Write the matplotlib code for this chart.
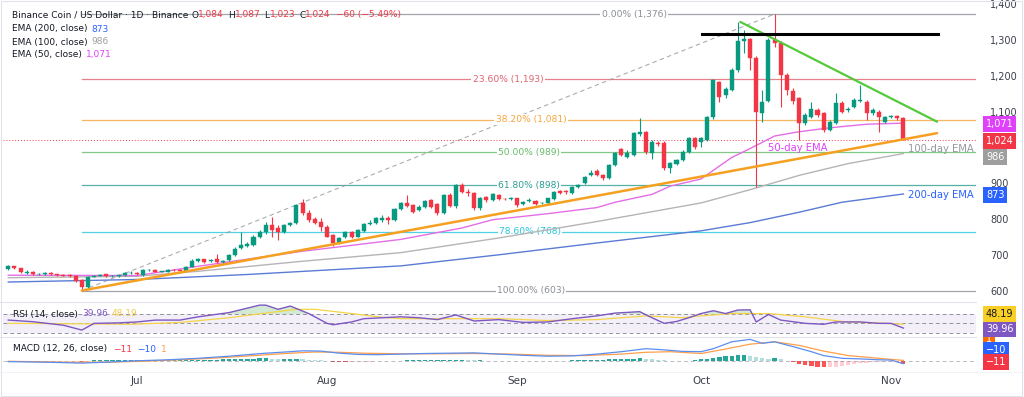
import matplotlib
matplotlib.use("Agg")
import matplotlib.pyplot as plt
import numpy as np
import pandas as pd
from matplotlib.transforms import blended_transform_factory

plt.rcParams['font.family'] = ['DejaVu Sans']

# ---------------- data ----------------
start_date = "2025-06-10"
n_days = 147

opens = [664,671,666,653,656,648,649,651,648,647,646,644,632,614,642,645,648,643,644,647,
         652,653,647,660,661,656,656,661,661,659,670,687,690,685,690,684,688,703,721,728,
         731,754,768,786,777,768,786,791,847,819,803,794,782,758,735,752,768,754,770,789,
         793,800,806,800,830,847,842,828,838,856,845,821,871,840,898,879,875,833,865,856,
         870,859,858,861,845,854,853,847,847,859,882,882,877,892,903,926,938,926,917,954,
         998,977,982,1042,1047,987,1016,1015,945,957,968,991,1029,1019,1024,1087,1187,1150,1164,1220,
         1301,1305,1252,1099,1134,1303,1294,1206,1160,1140,1071,1089,1108,1099,1052,1071,1126,1108,1117,1134,
         1131,1099,1103,1075,1089,1091,1084]
highs = [674,673,667,660,658,652,656,654,650,649,648,646,634,644,647,649,650,647,649,654,
         658,655,662,663,663,659,663,663,663,672,690,694,692,692,705,688,706,724,768,738,
         757,771,795,810,786,790,796,845,858,828,810,805,785,760,752,770,770,775,791,800,
         808,815,812,833,850,870,845,841,856,860,848,873,876,902,903,888,878,865,868,875,
         874,862,864,863,854,862,856,852,863,882,885,884,895,901,924,940,942,929,957,990,
         1001,995,1046,1085,1050,1025,1022,1020,962,972,995,1032,1033,1032,1092,1195,1190,1172,1225,1354,
         1331,1310,1260,1165,1310,1376,1300,1210,1168,1145,1100,1130,1113,1103,1080,1156,1132,1115,1140,1178,
         1136,1113,1107,1092,1094,1094,1087]
lows = [660,663,652,648,646,646,647,646,644,643,642,628,603,610,640,643,641,641,642,645,
        650,646,645,657,654,654,654,658,657,657,668,684,681,683,681,676,686,700,718,724,
        728,750,760,754,744,765,783,789,815,796,788,770,752,728,732,750,750,752,767,785,
        790,796,790,798,827,836,820,825,835,835,815,818,836,835,875,868,828,828,852,853,
        855,855,856,838,842,851,842,844,845,856,872,874,874,889,900,922,922,912,914,950,
        978,974,979,1035,985,970,1008,940,933,953,965,988,1000,1005,1020,1083,1130,1140,1160,1215,
        1266,1220,893,1075,1130,1285,1117,1150,1125,1024,1065,1085,1088,1045,1048,1068,1098,1103,1112,1130,
        1080,1095,1047,1072,1086,1080,1023]
closes = [671,666,655,655,649,650,651,648,646,645,644,630,614,642,644,646,643,645,647,652,
          653,648,660,661,656,657,661,660,659,670,687,690,684,689,683,686,703,720,730,734,
          754,768,786,772,768,786,793,842,819,800,791,782,754,735,749,768,754,772,788,791,
          805,807,800,830,847,840,824,838,853,838,821,870,840,898,879,875,833,861,856,872,
          858,858,861,842,851,856,845,849,861,879,875,878,892,898,921,932,926,917,954,987,
          982,987,1043,1045,991,1019,1014,945,959,968,991,1029,1005,1029,1089,1192,1145,1166,1220,1301,
          1305,1252,1103,1131,1303,1294,1206,1164,1132,1071,1094,1110,1094,1052,1075,1126,1103,1110,1136,1137,
          1099,1108,1089,1087,1091,1084,1024]

# EMA lines (day = days since 2025-06-10)
ema50_day = [0, 21, 31, 48, 64, 74, 79, 88, 96, 99, 105, 108, 113, 118, 121, 125, 129, 134, 140, 146]
ema50_val = [646, 645, 671, 713, 746, 778, 801, 818, 835, 850, 872, 895, 915, 975, 1000, 1035, 1047, 1058, 1068, 1071]
ema100_day = [0, 21, 31, 48, 64, 80, 96, 113, 121, 129, 137, 146]
ema100_val = [639, 643, 657, 685, 709, 750, 796, 848, 885, 925, 958, 986]
ema200_day = [0, 21, 39, 64, 80, 96, 113, 121, 129, 136, 146]
ema200_val = [627, 634, 648, 672, 703, 736, 770, 793, 822, 850, 873]

# RSI(14) and its moving average
rsi_day = [0,4,9,12,14,18,21,24,28,31,36,41,42,44,46,49,52,53,56,58,64,67,70,73,76,80,84,88,92,96,
           99,103,105,107,109,111,113,115,117,119,121,122,124,126,130,133,135,139,142,144,146]
rsi_val = [57,53.5,46,35.6,50,51,53,57,57,64,73,89,89,80,87,71,50,47,53,60,64,62,58,68,55,58,52,53,60,66,
           72,75,62,50,54,62,71,77,71,78.5,79,53,69,57,50,48,53,53,50,50,39.96]
rsi_ma_day = [0,12,20,28,36,42,47,50,56,61,64,72,80,88,96,104,110,113,118,124,130,136,141,146]
rsi_ma_val = [50,49,48,52,62,72,80,80,71,63,60,60,60,56,58,66,62,66,71,71,64,54,51,48.19]

# MACD (12, 26)
macd_day = [0,6,12,16,20,26,31,36,42,46,48,51,54,57,60,64,68,72,76,80,84,88,92,96,100,104,107,110,
            113,115,118,121,123,125,128,131,133,136,139,142,144,146]
macd_val = [-3,-5,-8,-5,-1,3,8,15,25,30,33,32,25,21,20,22,24,25,26,22,18,15,16,22,30,40,36,31,
            30,40,63,71,58,63,47,30,17,8,6,3,2,-10]
signal_day = [0,10,16,22,28,34,40,46,50,54,58,64,70,76,82,88,94,100,104,108,113,116,121,125,129,133,137,142,146]
signal_val = [-2,-5,-5,-2,3,9,17,25,29,28,25,23,23,24,22,18,17,22,28,30,24,35,55,63,51,32,17,8,1]
hist_val = [-2,-2,-3,-3,-2,-2,-1,-1,-1,-1,
            -1,-2,-3,-1,1,1,1,1,1,1,
            1,1,1,1,2,2,2,2,2,2,
            2,3,3,3,3,4,5,6,6,7,
            7,8,8,6,5,5,6,6,5,3,
            2,1,-1,-3,-4,-5,-5,-4,-3,-3,
            -2,-2,-1,-1,0,1,1,1,1,1,
            1,2,3,3,3,2,1,1,0,0,
            -1,-1,-1,-2,-2,-2,-2,-1,-1,-1,
            0,0,1,1,2,3,3,3,4,5,
            5,6,7,8,7,5,3,1,-1,-1,
            0,0,1,4,6,9,12,15,17,19,
            19,17,13,8,7,8,4,-2,-6,-11,
            -16,-19,-21,-22,-22,-20,-17,-14,-11,-9,
            -7,-6,-5,-4,-4,-3,-11]

# Fibonacci retracement
fib_ratios = ["0.00%", "23.60%", "38.20%", "50.00%", "61.80%", "78.60%", "100.00%"]
fib_levels = [1376, 1193, 1081, 989, 898, 768, 603]
fib_colors = ["#8a8d96", "#e0626e", "#f7a43a", "#66bb6a", "#2a9d8f", "#26c6da", "#8a8d96"]
fib_start_day = 12
fib_swing_day = [12, 125]
fib_swing_val = [603, 1376]

# hand-drawn trend lines
support_day = [12, 151.5]
support_val = [603, 1043]
resist_day = [119.4, 151.5]
resist_val = [1354, 1075]
top_day = [113.2, 151.7]
top_val = [1320, 1320]

last_close = 1024
ema_last = {"50": 1071, "100": 986, "200": 873}
price_ticks = [1400, 1300, 1200, 1100, 900, 800, 700, 600]

# ---------------- figure ----------------
W, H = 1024, 397
fig = plt.figure(figsize=(W / 100, H / 100), dpi=100)
fig.patch.set_facecolor("white")


def ax_at(x0, y0, x1, y1):
    a = fig.add_axes([x0 / W, 1 - y1 / H, (x1 - x0) / W, (y1 - y0) / H])
    a.set_facecolor("none")
    for s in a.spines.values():
        s.set_visible(False)
    a.set_xticks([])
    a.set_yticks([])
    return a


def px_to_day(px):
    return (px - 8.3) / 6.13


def py_to_price(py):
    return 603 + (290.6 - py) / 0.3578


ax = ax_at(3, 2, 976, 300)
ax_rsi = ax_at(3, 302, 976, 337)
ax_macd = ax_at(3, 337, 976, 372)
XL = (-0.86, 157.85)
for a in (ax, ax_rsi, ax_macd):
    a.set_xlim(*XL)
ax.set_ylim(576.7, 1409.6)
ax_rsi.set_ylim(20.8, 95.7)
ax_macd.set_ylim(-37.7, 79)

UP, DN = "#089981", "#f23645"
DARK = "#131722"
MAG, GREY, BLUE = "#e040fb", "#9e9e9e", "#2962ff"

# separators / frame
for yy in (301.5, 337):
    fig.add_artist(plt.Line2D([0, 976 / W], [1 - yy / H] * 2, color="#e0e3eb", lw=0.8))
fig.add_artist(plt.Line2D([0, 1], [1 - 372 / H] * 2, color="#eef0f4", lw=0.6))
fig.add_artist(plt.Rectangle((0.001, 0.002), 0.997, 0.995, fill=False, ec="#e0e3eb", lw=0.8,
                             transform=fig.transFigure))

idx = np.arange(n_days)
o = np.array(opens, float); h = np.array(highs, float)
l = np.array(lows, float); c = np.array(closes, float)

# fib lines
for lab, lev, col in zip(fib_ratios, fib_levels, fib_colors):
    ax.plot([fib_start_day, XL[1]], [lev, lev], color=col, lw=0.9, alpha=0.8, zorder=1)
fib_label_px = [634, 508, 531, 529, 529, 530, 531]
for lab, lev, col, px in zip(fib_ratios, fib_levels, fib_colors, fib_label_px):
    ax.text(px_to_day(px), lev, f"{lab} ({lev:,})", color=col, fontsize=6.6, ha="center", va="center",
            zorder=2, bbox=dict(boxstyle="square,pad=0.15", fc="white", ec="none"))
ax.plot(fib_swing_day, fib_swing_val, color="#9598a1", lw=0.8, ls=(0, (4, 3)), alpha=0.8, zorder=1)

# current price dotted line
ax.plot(XL, [last_close, last_close], color=DN, lw=0.7, ls=(0, (1, 2)), zorder=1)

# EMAs
ax.plot(ema200_day, ema200_val, color="#5b7bd5", lw=1.0, zorder=2)
ax.plot(ema100_day, ema100_val, color="#b5b5b5", lw=1.0, zorder=2)
ax.plot(ema50_day, ema50_val, color="#e36ee6", lw=1.0, zorder=2)

# candles
up = c >= o
cols = np.where(up, UP, DN)
ax.vlines(idx, l, h, colors=cols, lw=0.8, zorder=3)
body_bottom = np.minimum(o, c)
body_h = np.maximum(np.abs(c - o), 1.5)
ax.bar(idx, body_h, bottom=body_bottom, width=0.66, color=cols, edgecolor=cols, lw=0.3, zorder=4)

# trend lines
ax.plot(support_day, support_val, color="#f5a020", lw=1.8, zorder=5, solid_capstyle="round")
ax.plot(resist_day, resist_val, color="#55c93c", lw=1.6, zorder=5, solid_capstyle="round")
ax.plot(top_day, top_val, color="black", lw=2.2, zorder=5)

# EMA annotations
ax.text(px_to_day(798), py_to_price(148), "50-day EMA", color=MAG, fontsize=7.2, ha="center", va="center", zorder=6)
ax.text(px_to_day(908), py_to_price(149), "100-day EMA", color="#9598a1", fontsize=7.2,
        ha="left", va="center", zorder=6, clip_on=False)
ax.text(px_to_day(908), py_to_price(195), "200-day EMA", color=BLUE, fontsize=7.2,
        ha="left", va="center", zorder=6, clip_on=False)

# price axis labels
tr = blended_transform_factory(fig.transFigure, ax.transData)
for p in price_ticks:
    ax.text(990 / W, p, f"{p:,}", transform=tr, fontsize=7, color="#3b3f4a", ha="left", va="center", clip_on=False)


def box(y_px, s, fc, tc="white"):
    fig.text(986 / W, 1 - y_px / H, s, fontsize=7, color=tc, ha="left", va="center",
             bbox=dict(boxstyle="square,pad=0.28", fc=fc, ec="none"))


box(124, f"{ema_last['50']:,}", MAG)
box(141, f"{last_close:,}", DN)
box(157, f"{ema_last['100']:,}", GREY)
box(195, f"{ema_last['200']:,}", BLUE)

# RSI pane
rd = np.array(rsi_day, float); rv = np.array(rsi_val, float)
ax_rsi.axhspan(30, 70, color="#7e57c2", alpha=0.09, lw=0)
for lv in (70, 50, 30):
    ax_rsi.axhline(lv, color="#787b86", lw=0.7, ls=(0, (4, 3)), alpha=0.8)
ax_rsi.fill_between(rd, 70, rv, where=rv > 70, interpolate=True, color="#4caf50", alpha=0.25, lw=0)
ax_rsi.plot(rsi_ma_day, rsi_ma_val, color="#f5d44a", lw=0.9)
ax_rsi.plot(rd, rv, color="#7e57c2", lw=1.0)
box(339, f"{signal_val[-1]}", "#ff6d00")
box(329, f"{rsi_val[-1]:.2f}", "#7e57c2")
box(314, f"{rsi_ma_val[-1]:.2f}", "#f9cf25", DARK)

# MACD pane
ax_macd.axhline(0, color="#787b86", lw=0.7, ls=(0, (4, 3)), alpha=0.5)
hv = np.array(hist_val, float)
prev = np.concatenate([[hv[0]], hv[:-1]])
hcols = np.where(hv >= 0, np.where(hv >= prev, "#26a69a", "#b2dfdb"),
                 np.where(hv < prev, "#ff5252", "#ffcdd2"))
ax_macd.bar(idx, hv, width=0.7, color=hcols, lw=0)
ax_macd.plot(signal_day, signal_val, color="#ff9f4a", lw=0.9)
ax_macd.plot(macd_day, macd_val, color="#5b8def", lw=0.9)
box(350, f"{macd_val[-1]}".replace("-", "\u2212"), BLUE)
box(362, f"{hist_val[-1]}".replace("-", "\u2212"), "#f23645")

# month labels
dates = pd.date_range(start_date, periods=n_days, freq="D")
trx = blended_transform_factory(ax_macd.transData, fig.transFigure)
for i, d in enumerate(dates):
    if d.day == 1:
        ax_macd.text(i, 1 - 381 / H, d.strftime("%b"), transform=trx, fontsize=7.5, color="#3b3f4a",
                     ha="center", va="center", clip_on=False)

# legends
renderer = fig.canvas.get_renderer()


def chain(x_px, y_px, parts, size=6.5):
    x = x_px
    for s, col, gap in parts:
        t = fig.text(x / W, 1 - y_px / H, s, color=col, fontsize=size, ha="left", va="center")
        x += t.get_window_extent(renderer=renderer).width + gap


chain(12, 15, [("Binance Coin / US Dollar · 1D · Binance", DARK, 3), ("O", DARK, 0), ("1,084", DN, 4),
               ("H", DARK, 0), ("1,087", DN, 4), ("L", DARK, 0), ("1,023", DN, 4), ("C", DARK, 0),
               ("1,024", DN, 5), ("\u221260 (\u22125.49%)", DN, 0)])
chain(12, 29, [("EMA (200, close)", DARK, 4), ("873", BLUE, 0)])
chain(12, 42, [("EMA (100, close)", DARK, 4), ("986", GREY, 0)])
chain(12, 54, [("EMA (50, close)", DARK, 4), ("1,071", MAG, 0)])
chain(13, 314, [("RSI (14, close)", DARK, 4), ("39.96", "#7e57c2", 4), ("48.19", "#f2c94c", 0)])
chain(13, 349, [("MACD (12, 26, close)", DARK, 6), ("\u221211", DN, 5), ("\u221210", BLUE, 5), ("1", "#ff9f4a", 0)])

fig.savefig("out.png", dpi=100, facecolor="white")
